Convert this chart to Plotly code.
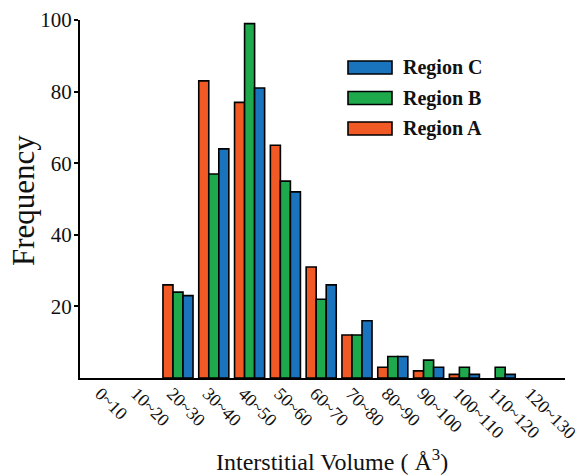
import plotly.graph_objects as go

categories = ["0~10", "10~20", "20~30", "30~40", "40~50", "50~60", "60~70",
              "70~80", "80~90", "90~100", "100~110", "110~120", "120~130"]
region_a = [0, 0, 26, 83, 77, 65, 31, 12, 3, 2, 1, 0, 0]
region_b = [0, 0, 24, 57, 99, 55, 22, 12, 6, 5, 3, 3, 0]
region_c = [0, 0, 23, 64, 81, 52, 26, 16, 6, 3, 1, 1, 0]
series_names = ["Region A", "Region B", "Region C"]
colors = ["#F15A24", "#1EAA4C", "#1A74BD"]
y_ticks = [20, 40, 60, 80, 100]

FONT = "Liberation Serif, Times New Roman, serif"
xs = list(range(len(categories)))

fig = go.Figure()
for name, vals, col in zip(series_names, [region_a, region_b, region_c], colors):
    fig.add_trace(go.Bar(
        x=xs, y=vals, name=name,
        marker=dict(color=col,
                    line=dict(color="black",
                              width=[1.6 if v > 0 else 0 for v in vals])),
        showlegend=False,
    ))

# plot geometry (pixels) for the custom legend placement
L, R, T, B = 80, 17, 20, 98
W, H = 582, 476
pw, ph = W - L - R, H - T - B

def px(x):
    return (x - L) / pw

def py(y):
    return (H - B - y) / ph

# custom legend (top-to-bottom: C, B, A)
for i, (name, col) in enumerate(zip(series_names[::-1], colors[::-1])):
    y0 = 61 + i * 30.5
    fig.add_shape(type="rect", xref="paper", yref="paper",
                  x0=px(348), x1=px(392), y0=py(y0 + 13), y1=py(y0),
                  fillcolor=col, line=dict(color="black", width=1.6))
    fig.add_annotation(xref="paper", yref="paper", x=px(401), y=py(y0 + 6.5),
                       text="<b>" + name + "</b>", showarrow=False,
                       xanchor="left", yanchor="middle",
                       font=dict(family=FONT, size=20, color="#111"))

fig.add_annotation(xref="paper", yref="paper", x=px(332), y=py(460),
                   text="Interstitial Volume ( Å<sup>3</sup>)", showarrow=False,
                   xanchor="center", yanchor="middle",
                   font=dict(family=FONT, size=24, color="#111"))
fig.add_annotation(xref="paper", yref="paper", x=px(23), y=py(201),
                   text="Frequency", showarrow=False, textangle=-90,
                   xanchor="center", yanchor="middle",
                   font=dict(family=FONT, size=31, color="#111"))

fig.update_layout(
    width=W, height=H,
    margin=dict(l=L, r=R, t=T, b=B, autoexpand=False),
    paper_bgcolor="white", plot_bgcolor="white",
    barmode="group", bargap=0.16, bargroupgap=0,
    font=dict(family=FONT, color="#111"),
)
fig.update_xaxes(
    range=[-0.737, 12.81], tickmode="array", tickvals=xs, ticktext=categories,
    tickangle=45, showline=True, linecolor="black", linewidth=2,
    showgrid=False, zeroline=False, ticks="", tickfont=dict(size=18),
    ticklabeloverflow="allow", ticklabelstandoff=-4, ticklabelshift=-6,
    automargin=False,
)
fig.update_yaxes(
    range=[0, 100], tickmode="array", tickvals=y_ticks,
    showline=True, linecolor="black", linewidth=2,
    showgrid=False, zeroline=False, ticks="outside", ticklen=4, tickwidth=2,
    tickcolor="black", tickfont=dict(size=21), automargin=False,
    ticklabelstandoff=-2,
)

fig.write_html("out.html")
